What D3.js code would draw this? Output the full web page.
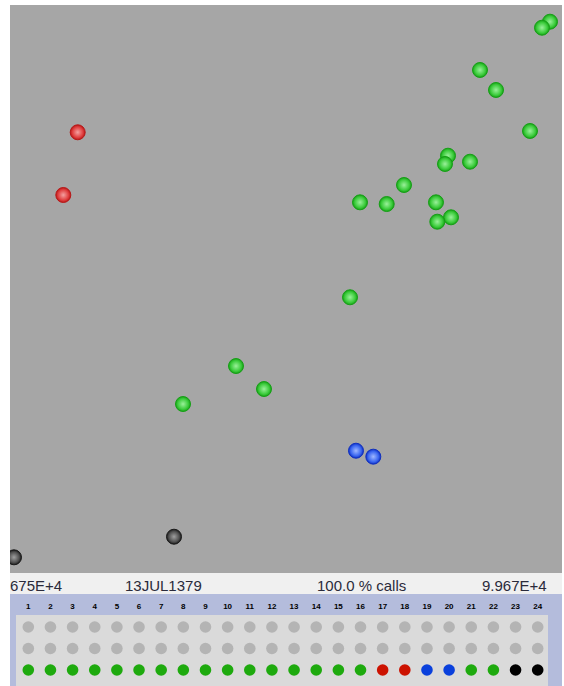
<!DOCTYPE html>
<html>
<head>
<meta charset="utf-8">
<script src="https://cdn.jsdelivr.net/npm/d3@7"></script>
<style>
  html, body { margin: 0; padding: 0; background: #ffffff; }
  svg { display: block; }
  text { font-family: "Liberation Sans", Arial, sans-serif; }
</style>
</head>
<body>
<svg id="chart" width="564" height="686"></svg>
<script>
// ---- Data ----
const channels = d3.range(1, 25);                 // legend columns 1..24
const channelGroup = ["g","g","g","g","g","g","g","g","g","g","g","g","g","g","g","g",
                      "r","r","b","b","g","g","k","k"];
const xValues = [97867, 96666, 87352, 89756, 94863, 82545, 82094, 85850, 75935, 69326,
                 73337, 80742, 82996, 80938, 67824, 50699, 26920, 24757, 68725, 71324,
                 54905, 42738, 41386, 17351];
const yValues = [97.06, 96.0, 88.56, 85.04, 77.82, 73.47, 72.01, 72.41, 68.31, 65.26,
                 64.96, 65.26, 62.62, 61.85, 48.54, 36.44, 77.59, 66.55, 21.53, 20.48,
                 32.39, 29.75, 6.39, 2.76];
const xDomain = [16750, 99670];
const yDomain = [0, 100];
const statusTexts = ["675E+4", "13JUL1379", "100.0 % calls", "9.967E+4"];
const legendRows = ["off", "off", "on"];

// ---- Styles ----
const groupColors = {
  g: { c0: "#9af09a", c1: "#3ccc3c", c2: "#16a016", solid: "#1eaa0e" },
  r: { c0: "#f4a0a0", c1: "#e04040", c2: "#b81818", solid: "#cc1200" },
  b: { c0: "#a0b8ff", c1: "#3a66f0", c2: "#1030c0", solid: "#0a40dc" },
  k: { c0: "#a0a0a0", c1: "#505050", c2: "#1a1a1a", solid: "#000000" }
};

const svg = d3.select("#chart");
const plot = { left: 10, right: 562, top: 5, bottom: 573 };

const x = d3.scaleLinear().domain(xDomain).range([plot.left, plot.right]);
const y = d3.scaleLinear().domain(yDomain).range([plot.bottom, plot.top]);

const defs = svg.append("defs");
defs.append("clipPath").attr("id", "plotClip")
  .append("rect").attr("x", plot.left).attr("y", plot.top)
  .attr("width", plot.right - plot.left).attr("height", plot.bottom - plot.top);
defs.append("clipPath").attr("id", "statusClip")
  .append("rect").attr("x", 10).attr("y", 573).attr("width", 552).attr("height", 21);

Object.entries(groupColors).forEach(([k, c]) => {
  const g = defs.append("radialGradient").attr("id", "grad-" + k)
    .attr("cx", "50%").attr("cy", "50%").attr("r", "50%");
  g.append("stop").attr("offset", "0%").attr("stop-color", c.c0);
  g.append("stop").attr("offset", "70%").attr("stop-color", c.c1);
  g.append("stop").attr("offset", "100%").attr("stop-color", c.c2);
});

// plot background
svg.append("rect").attr("x", plot.left).attr("y", plot.top)
  .attr("width", plot.right - plot.left).attr("height", plot.bottom - plot.top)
  .attr("fill", "#a6a6a6");

// points
const pts = channels.map((ch, i) => ({ ch, grp: channelGroup[i], xv: xValues[i], yv: yValues[i] }));
svg.append("g").attr("clip-path", "url(#plotClip)")
  .selectAll("circle").data(pts).join("circle")
  .attr("cx", d => x(d.xv)).attr("cy", d => y(d.yv)).attr("r", 7.5)
  .attr("fill", d => `url(#grad-${d.grp})`)
  .attr("stroke", d => groupColors[d.grp].c2).attr("stroke-width", 1);

// status bar
svg.append("rect").attr("x", 10).attr("y", 573).attr("width", 552).attr("height", 21).attr("fill", "#f0f0f0");
const statusX = [10, 125, 317, 482];
const status = svg.append("g").attr("clip-path", "url(#statusClip)");
status.selectAll("text").data(statusTexts).join("text")
  .attr("x", (d, i) => statusX[i]).attr("y", 591)
  .attr("font-size", 15).attr("fill", "#2a2a3a").text(d => d);

// legend panel
svg.append("rect").attr("x", 10).attr("y", 594).attr("width", 552).attr("height", 92).attr("fill", "#b4bcdc");
svg.append("rect").attr("x", 16).attr("y", 615).attr("width", 532).attr("height", 71).attr("fill", "#dadada");

const lx = d3.scalePoint().domain(channels).range([28.3, 537.7]);
svg.append("g").selectAll("text").data(channels).join("text")
  .attr("x", d => lx(d)).attr("y", 609).attr("text-anchor", "middle")
  .attr("font-size", 8).attr("font-weight", "bold").attr("fill", "#000").text(d => d);

const rowY = d3.scalePoint().domain(d3.range(legendRows.length)).range([627, 670]);
legendRows.forEach((state, r) => {
  svg.append("g").selectAll("circle").data(pts).join("circle")
    .attr("cx", d => lx(d.ch)).attr("cy", rowY(r)).attr("r", 5.8)
    .attr("fill", d => state === "on" ? groupColors[d.grp].solid : "#b4b4b4");
});
</script>
</body>
</html>
